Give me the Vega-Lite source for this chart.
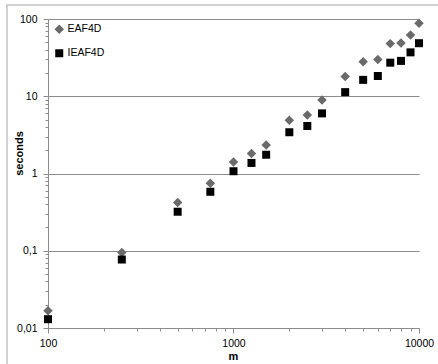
{
  "$schema": "https://vega.github.io/schema/vega-lite/v6.json",
  "width": 371,
  "height": 309,
  "autosize": {"type": "none"},
  "padding": {"left": 48, "top": 19, "right": 19, "bottom": 36},
  "background": "white",
  "config": {
    "view": {"stroke": null},
    "font": "Liberation Sans"
  },
  "layer": [
    {
      "description": "Light frame around the chart area (left and top edges fall inside the canvas)",
      "data": {"values": [{}]},
      "mark": {"type": "rect", "filled": false, "stroke": "#c2c2c2", "strokeWidth": 1.5},
      "encoding": {
        "x": {"datum": 60.1, "type": "quantitative"},
        "x2": {"datum": 100000},
        "y": {"datum": 151.7, "type": "quantitative"},
        "y2": {"datum": 0.0001}
      }
    },
    {
      "data": {
        "values": [
          {"series": "EAF4D", "m": 100, "seconds": 0.0167},
          {"series": "EAF4D", "m": 250, "seconds": 0.095},
          {"series": "EAF4D", "m": 500, "seconds": 0.42},
          {"series": "EAF4D", "m": 750, "seconds": 0.75},
          {"series": "EAF4D", "m": 1000, "seconds": 1.41},
          {"series": "EAF4D", "m": 1250, "seconds": 1.82},
          {"series": "EAF4D", "m": 1500, "seconds": 2.34},
          {"series": "EAF4D", "m": 2000, "seconds": 4.9},
          {"series": "EAF4D", "m": 2500, "seconds": 5.7},
          {"series": "EAF4D", "m": 3000, "seconds": 8.95},
          {"series": "EAF4D", "m": 4000, "seconds": 18},
          {"series": "EAF4D", "m": 5000, "seconds": 28},
          {"series": "EAF4D", "m": 6000, "seconds": 30},
          {"series": "EAF4D", "m": 7000, "seconds": 48},
          {"series": "EAF4D", "m": 8000, "seconds": 49},
          {"series": "EAF4D", "m": 9000, "seconds": 62},
          {"series": "EAF4D", "m": 10000, "seconds": 88},
          {"series": "IEAF4D", "m": 100, "seconds": 0.013},
          {"series": "IEAF4D", "m": 250, "seconds": 0.077},
          {"series": "IEAF4D", "m": 500, "seconds": 0.32},
          {"series": "IEAF4D", "m": 750, "seconds": 0.58},
          {"series": "IEAF4D", "m": 1000, "seconds": 1.07},
          {"series": "IEAF4D", "m": 1250, "seconds": 1.37},
          {"series": "IEAF4D", "m": 1500, "seconds": 1.75},
          {"series": "IEAF4D", "m": 2000, "seconds": 3.42},
          {"series": "IEAF4D", "m": 2500, "seconds": 4.12},
          {"series": "IEAF4D", "m": 3000, "seconds": 6.0},
          {"series": "IEAF4D", "m": 4000, "seconds": 11.3},
          {"series": "IEAF4D", "m": 5000, "seconds": 16.3},
          {"series": "IEAF4D", "m": 6000, "seconds": 18.3},
          {"series": "IEAF4D", "m": 7000, "seconds": 27.2},
          {"series": "IEAF4D", "m": 8000, "seconds": 28.7},
          {"series": "IEAF4D", "m": 9000, "seconds": 37},
          {"series": "IEAF4D", "m": 10000, "seconds": 48.6}
        ]
      },
      "mark": {"type": "point", "filled": true, "opacity": 1, "strokeWidth": 0},
      "encoding": {
        "x": {
          "field": "m",
          "type": "quantitative",
          "scale": {"type": "log", "domain": [100, 10000], "nice": false},
          "axis": {
            "title": "m",
            "values": [100, 200, 300, 400, 500, 600, 700, 800, 900, 1000, 2000, 3000, 4000, 5000, 6000, 7000, 8000, 9000, 10000],
            "labelExpr": "abs(log(datum.value)/LN10 - round(log(datum.value)/LN10)) < 0.001 ? format(datum.value, 'd') : ''",
            "grid": false,
            "domainColor": "#8c8c8c",
            "domainWidth": 1,
            "tickColor": "#8c8c8c",
            "tickSize": {"condition": {"test": "abs(log(datum.value)/LN10 - round(log(datum.value)/LN10)) < 0.001", "value": 5}, "value": 3},
            "labelFontSize": 10.5,
            "labelColor": "#000000",
            "labelPadding": 5,
            "labelOverlap": false,
            "labelFlush": false,
            "titleFontSize": 11,
            "titleFontWeight": "bold",
            "titleColor": "#000000",
            "titleX": 185,
            "titleY": 31,
            "titleBaseline": "alphabetic"
          }
        },
        "y": {
          "field": "seconds",
          "type": "quantitative",
          "scale": {"type": "log", "domain": [0.01, 100], "nice": false},
          "axis": {
            "title": "seconds",
            "values": [0.01, 0.02, 0.03, 0.04, 0.05, 0.06, 0.07, 0.08, 0.09, 0.1, 0.2, 0.3, 0.4, 0.5, 0.6, 0.7, 0.8, 0.9, 1, 2, 3, 4, 5, 6, 7, 8, 9, 10, 20, 30, 40, 50, 60, 70, 80, 90, 100],
            "labelExpr": "abs(log(datum.value)/LN10 - round(log(datum.value)/LN10)) < 0.001 ? replace(toString(datum.value), '.', ',') : ''",
            "grid": true,
            "gridColor": "#8c8c8c",
            "gridWidth": 1,
            "gridOpacity": {"condition": {"test": "abs(log(datum.value)/LN10 - round(log(datum.value)/LN10)) < 0.001", "value": 1}, "value": 0},
            "domainColor": "#8c8c8c",
            "domainWidth": 1,
            "tickColor": "#8c8c8c",
            "tickSize": {"condition": {"test": "abs(log(datum.value)/LN10 - round(log(datum.value)/LN10)) < 0.001", "value": 5}, "value": 3},
            "labelFontSize": 10.5,
            "labelColor": "#000000",
            "labelPadding": 6,
            "labelOverlap": false,
            "labelFlush": false,
            "titleFontSize": 11,
            "titleFontWeight": "bold",
            "titleColor": "#000000",
            "titleX": -29,
            "titleY": 134,
            "titleBaseline": "middle",
            "titleAngle": -90
          }
        },
        "shape": {
          "field": "series",
          "type": "nominal",
          "scale": {"domain": ["EAF4D", "IEAF4D"], "range": ["diamond", "square"]},
          "legend": {
            "title": null,
            "orient": "none",
            "legendX": 6,
            "legendY": 5,
            "symbolSize": 64,
            "symbolStrokeWidth": 0,
            "labelFontSize": 10.5,
            "labelColor": "#000000",
            "labelOffset": 3,
            "rowPadding": 13
          }
        },
        "color": {
          "field": "series",
          "type": "nominal",
          "scale": {"domain": ["EAF4D", "IEAF4D"], "range": ["#6a6a6a", "#000000"]},
          "legend": {
            "title": null,
            "orient": "none",
            "legendX": 6,
            "legendY": 5,
            "symbolSize": 64,
            "symbolStrokeWidth": 0,
            "labelFontSize": 10.5,
            "labelColor": "#000000",
            "labelOffset": 3,
            "rowPadding": 13
          }
        },
        "size": {
          "field": "series",
          "type": "nominal",
          "scale": {"domain": ["EAF4D", "IEAF4D"], "range": [90, 64]},
          "legend": null
        }
      }
    }
  ]
}
